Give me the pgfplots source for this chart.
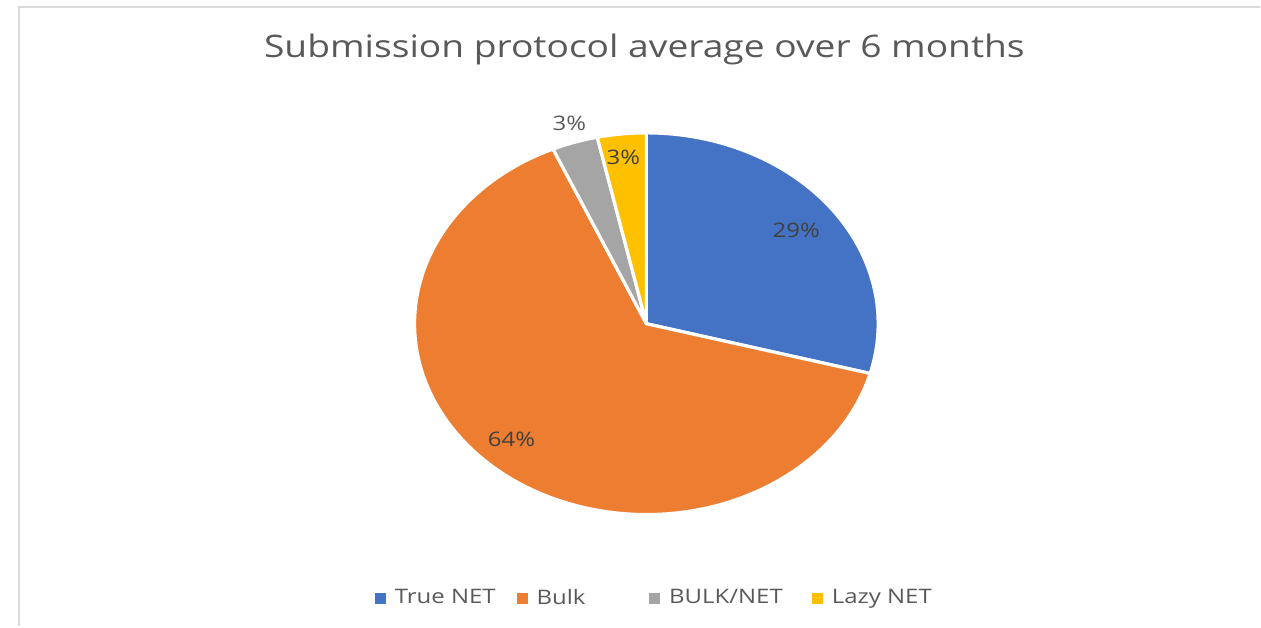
\documentclass[border=0pt]{standalone}
\usepackage{pgfplots}
\pgfplotsset{compat=1.18}
\usepackage{fontspec}
\setmainfont{Open Sans}
\definecolor{cBlue}{HTML}{4472C4}
\definecolor{cOrange}{HTML}{ED7D31}
\definecolor{cGray}{HTML}{A5A5A5}
\definecolor{cYellow}{HTML}{FFC000}
\definecolor{txt}{HTML}{595959}
\definecolor{txtd}{HTML}{404040}
\definecolor{frm}{HTML}{D9D9D9}
% data (percent)
\def\vTrue{29.2}\def\vBulk{64.2}\def\vBN{3.2}\def\vLazy{3.4}
\pgfmathsetmacro\aA{90}
\pgfmathsetmacro\aB{\aA-3.6*\vTrue}
\pgfmathsetmacro\aC{\aB-3.6*\vBulk}
\pgfmathsetmacro\aD{\aC-3.6*\vBN}
\pgfmathsetmacro\aE{\aD-3.6*\vLazy}
\newcommand\slice[3]{%
  \fill[#3, draw=white, line width=1.6pt, line join=round]
    (axis cs:647,324) -- (axis cs:{647+232*cos(#1)},{324-191*sin(#1)})
    arc[start angle=#1, end angle=#2, x radius=116pt, y radius=95.5pt] -- cycle;}
\newcommand\sx[1]{\scalebox{1.2}[1]{#1}}
\begin{document}
\begin{tikzpicture}
\begin{axis}[scale only axis, width=630.5pt, height=313.5pt,
  xmin=0, xmax=1261, ymin=0, ymax=627, y dir=reverse, hide axis, clip=false,
  legend style={at={(axis description cs:0.2974,0.045)}, anchor=west, draw=none, fill=none,
    inner sep=0pt, legend columns=4, font=\fontsize{10}{12}\selectfont, text=txt,
    nodes={inner sep=0pt},
    /tikz/every odd column/.append style={column sep=4.5pt},
    /tikz/every even column/.append style={column sep=0pt}},
  legend image code/.code={\fill[#1] (0pt,-2.5pt) rectangle (5pt,2.5pt);}
]
\path (axis cs:0,0) rectangle (axis cs:1261,627);
\draw[frm, line width=1.2pt] (axis cs:19,627) -- (axis cs:19,7) -- (axis cs:1261,7);
\slice{\aA}{\aB}{cBlue}
\slice{\aB}{\aC}{cOrange}
\slice{\aC}{\aD}{cGray}
\slice{\aD}{\aE}{cYellow}
\node[font=\fontsize{15.5}{18}\selectfont, text=txt, anchor=base] at (axis cs:645,58) {\scalebox{1.2}[1]{Submission protocol average over 6 months}};
\node[font=\fontsize{10}{12}\selectfont, text=txtd] at (axis cs:797,231) {\sx{29\%}};
\node[font=\fontsize{10}{12}\selectfont, text=txtd] at (axis cs:512,440) {\sx{64\%}};
\node[font=\fontsize{10}{12}\selectfont, text=txt] at (axis cs:570,123) {\sx{3\%}};
\node[font=\fontsize{10}{12}\selectfont, text=txtd] at (axis cs:624,158) {\sx{3\%}};
\addlegendimage{cBlue}\addlegendentry{\makebox[61pt][l]{\sx{True NET}}}
\addlegendimage{cOrange}\addlegendentry{\makebox[56.5pt][l]{\sx{Bulk}}}
\addlegendimage{cGray}\addlegendentry{\makebox[71.5pt][l]{\sx{BULK/NET}}}
\addlegendimage{cYellow}\addlegendentry{\sx{Lazy NET}}
\end{axis}
\end{tikzpicture}
\end{document}
